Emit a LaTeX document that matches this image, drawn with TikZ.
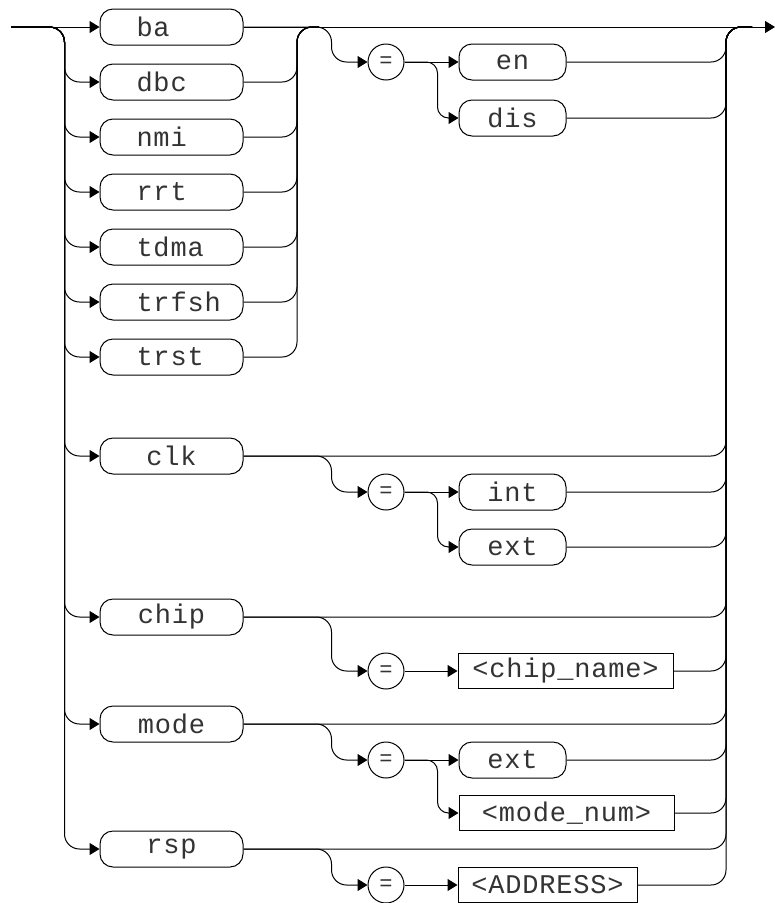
\documentclass[tikz,border=0pt]{standalone}
\usepackage{fontspec}
\newfontfamily\plotfont[LetterSpace=3]{Liberation Mono}
\usetikzlibrary{arrows.meta, positioning}

\newcommand{\lbl}[1]{\makebox[70pt][l]{#1}}

\begin{document}
\begin{tikzpicture}[
  x=1pt, y=-1pt, line width=1pt,
  kw/.style={rectangle, draw, rounded corners=13pt, minimum width=143pt, minimum height=36pt, inner sep=0pt, text=black!80, font=\plotfont\fontsize{27}{29}\selectfont},
  val/.style={kw, minimum width=107pt},
  param/.style={rectangle, draw, minimum height=35pt, inner sep=0pt, text=black!80, font=\plotfont\fontsize{27}{29}\selectfont},
  eq/.style={circle, draw, minimum size=36pt, inner sep=0pt, text=black!80, font=\plotfont\fontsize{22}{24}\selectfont},
  arrow/.style={-{Triangle[length=10pt,width=12pt]}},
  rail/.style={rounded corners=15pt},
  sidebend/.style={rounded corners=11pt}
]
  \useasboundingbox (0,0) rectangle (775,903);

  \coordinate (start) at (11,27);
  \coordinate (mid) at (297,27);
  \coordinate (rtop) at (726,27);
  \coordinate (rjoin) at (752,27);
  \coordinate (finish) at (775,27);

  % keywords
  \node[kw] (ba) at (171.5,27) {\lbl{ba}};
  \node[kw, below=18pt of ba] (dbc) {\lbl{dbc}};
  \node[kw, below=18pt of dbc] (nmi) {\lbl{nmi}};
  \node[kw, below=18pt of nmi] (rrt) {\lbl{rrt}};
  \node[kw, below=18pt of rrt] (tdma) {\lbl{tdma}};
  \node[kw, below=18pt of tdma] (trfsh) {\lbl{trfsh}};
  \node[kw, below=18pt of trfsh] (trst) {\lbl{trst}};
  \node[kw] (clk) at (171.5,456) {clk};
  \node[kw] (chip) at (171.5,617) {chip};
  \node[kw] (mode) at (171.5,724) {mode};
  \node[kw] (rsp) at (171.5,849) {rsp};

  % values
  \node[eq] (eqa) at (386,62) {=};
  \node[val, right=54pt of eqa] (en) {en};
  \node[val, below=19pt of en] (dis) {dis};
  \node[eq] (eqb) at (386,492) {=};
  \node[val, right=54pt of eqb] (int) {int};
  \node[val, below=18pt of int] (ext) {ext};
  \node[eq] (eqc) at (386,671) {=};
  \node[param, minimum width=215pt, right=53pt of eqc] (chipname) {<chip\_name>};
  \node[eq] (eqd) at (386,760) {=};
  \node[val, right=54pt of eqd] (extb) {ext};
  \node[param, minimum width=215pt, anchor=west] (modenum) at ([yshift=-53pt]extb.west) {<mode\_num>};
  \node[eq] (eqe) at (386,885) {=};
  \node[param, minimum width=179pt, right=53pt of eqe] (address) {<ADDRESS>};

  % main line
  \draw[arrow] (start) -- (ba);
  \draw[arrow] (ba) -- (finish);

  % left rail
  \draw[arrow, rail] (start) -| ([xshift=-35pt]dbc.west) -- (dbc.west);
  \draw[arrow, rail] (start) -| ([xshift=-35pt]nmi.west) -- (nmi.west);
  \draw[arrow, rail] (start) -| ([xshift=-35pt]rrt.west) -- (rrt.west);
  \draw[arrow, rail] (start) -| ([xshift=-35pt]tdma.west) -- (tdma.west);
  \draw[arrow, rail] (start) -| ([xshift=-35pt]trfsh.west) -- (trfsh.west);
  \draw[arrow, rail] (start) -| ([xshift=-35pt]trst.west) -- (trst.west);
  \draw[arrow, rail] (start) -| ([xshift=-35pt]clk.west) -- (clk.west);
  \draw[arrow, rail] (start) -| ([xshift=-35pt]chip.west) -- (chip.west);
  \draw[arrow, rail] (start) -| ([xshift=-35pt]mode.west) -- (mode.west);
  \draw[arrow, rail] (start) -| ([xshift=-35pt]rsp.west) -- (rsp.west);

  % middle rail
  \draw[rail] (dbc.east) -| (mid) -- ([xshift=22pt]mid);
  \draw[rail] (nmi.east) -| (mid) -- ([xshift=22pt]mid);
  \draw[rail] (rrt.east) -| (mid) -- ([xshift=22pt]mid);
  \draw[rail] (tdma.east) -| (mid) -- ([xshift=22pt]mid);
  \draw[rail] (trfsh.east) -| (mid) -- ([xshift=22pt]mid);
  \draw[rail] (trst.east) -| (mid) -- ([xshift=22pt]mid);

  % branches to =
  \draw[arrow, rail] (ba.east) -| ([xshift=-36pt]eqa.west) -- (eqa.west);
  \draw[arrow, rail] (clk.east) -| ([xshift=-36pt]eqb.west) -- (eqb.west);
  \draw[arrow, rail] (chip.east) -| ([xshift=-36pt]eqc.west) -- (eqc.west);
  \draw[arrow, rail] (mode.east) -| ([xshift=-36pt]eqd.west) -- (eqd.west);
  \draw[arrow, rail] (rsp.east) -| ([xshift=-36pt]eqe.west) -- (eqe.west);

  \draw[arrow] (eqa) -- (en);
  \draw[arrow, sidebend] (eqa.east) -| ([xshift=-21pt]dis.west) -- (dis.west);
  \draw[arrow] (eqb) -- (int);
  \draw[arrow, sidebend] (eqb.east) -| ([xshift=-21pt]ext.west) -- (ext.west);
  \draw[arrow] (eqc) -- (chipname);
  \draw[arrow] (eqd) -- (extb);
  \draw[arrow, sidebend] (eqd.east) -| ([xshift=-21pt]modenum.west) -- (modenum.west);
  \draw[arrow] (eqe) -- (address);

  % right rail
  \draw[rail] (en.east) -| (rtop) -- (rjoin);
  \draw[rail] (dis.east) -| (rtop) -- (rjoin);
  \draw[rail] (clk.east) -| (rtop) -- (rjoin);
  \draw[rail] (int.east) -| (rtop) -- (rjoin);
  \draw[rail] (ext.east) -| (rtop) -- (rjoin);
  \draw[rail] (chip.east) -| (rtop) -- (rjoin);
  \draw[rail] (chipname.east) -| (rtop) -- (rjoin);
  \draw[rail] (mode.east) -| (rtop) -- (rjoin);
  \draw[rail] (extb.east) -| (rtop) -- (rjoin);
  \draw[rail] (modenum.east) -| (rtop) -- (rjoin);
  \draw[rail] (rsp.east) -| (rtop) -- (rjoin);
  \draw[rail] (address.east) -| (rtop) -- (rjoin);
\end{tikzpicture}
\end{document}
